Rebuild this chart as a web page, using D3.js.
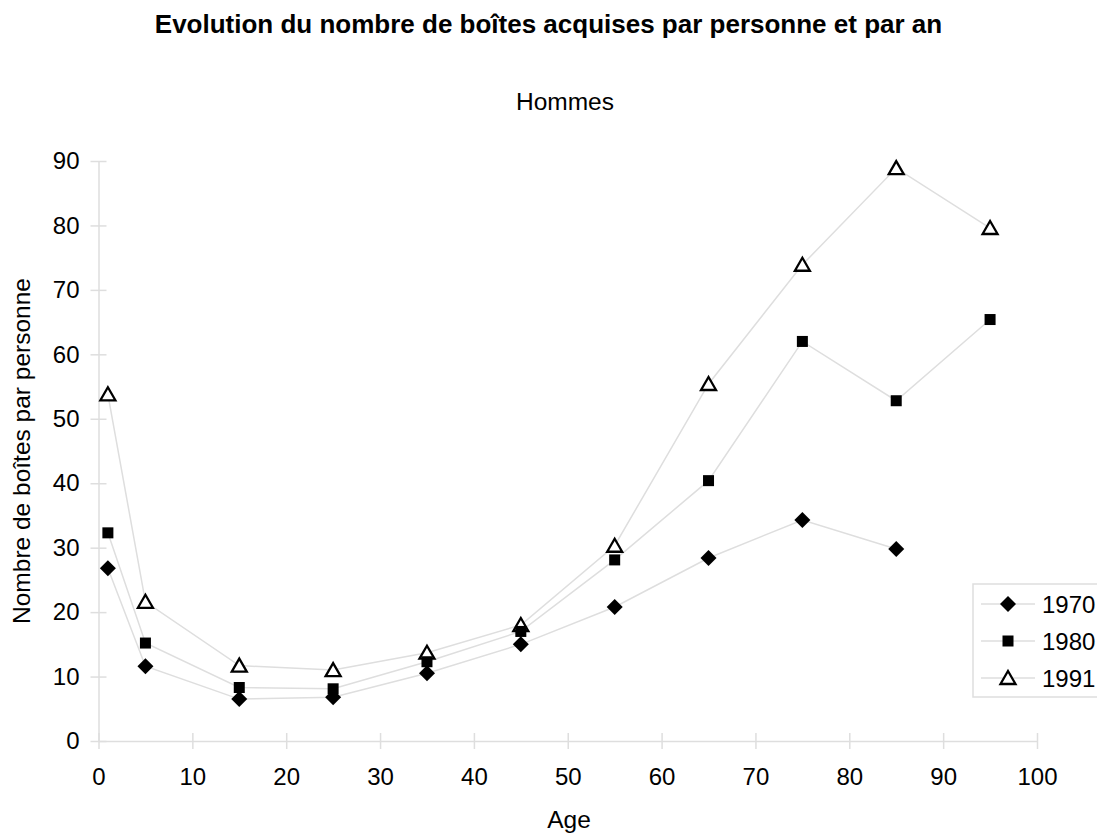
<!DOCTYPE html>
<html>
<head>
<meta charset="utf-8">
<script src="https://cdn.jsdelivr.net/npm/d3@7"></script>
<style>
  body { margin: 0; background: #fff; }
  text { font-family: "Liberation Sans", Arial, Helvetica, sans-serif; fill: #000; }
</style>
</head>
<body>
<script>
// chart data
var ages = [1, 5, 15, 25, 35, 45, 55, 65, 75, 85, 95];
var v1970 = [26.8, 11.6, 6.5, 6.8, 10.5, 15.0, 20.8, 28.4, 34.3, 29.8, null];
var v1980 = [32.3, 15.2, 8.3, 8.1, 12.3, 17.0, 28.1, 40.4, 62.0, 52.8, 65.4];
var v1991 = [53.8, 21.6, 11.7, 11.0, 13.7, 18.0, 30.3, 55.4, 73.9, 88.9, 79.6];
var seriesNames = ["1970", "1980", "1991"];
var xTicks = [0, 10, 20, 30, 40, 50, 60, 70, 80, 90, 100];
var yTicks = [0, 10, 20, 30, 40, 50, 60, 70, 80, 90];

var W = 1097, H = 836;
var grey = "#dedede";

var svg = d3.select("body").append("svg")
    .attr("width", W)
    .attr("height", H);

// scales
var x = d3.scaleLinear().domain([0, 100]).range([98.5, 1037]);
var y = d3.scaleLinear().domain([0, 90]).range([741, 161]);

// titles
svg.append("text")
    .attr("x", W / 2).attr("y", 33)
    .attr("text-anchor", "middle")
    .style("font-size", "26px").style("font-weight", "bold")
    .text("Evolution du nombre de boîtes acquises par personne et par an");

svg.append("text")
    .attr("x", 565).attr("y", 110)
    .attr("text-anchor", "middle")
    .style("font-size", "24.5px")
    .text("Hommes");

svg.append("text")
    .attr("transform", "translate(30,451) rotate(-90)")
    .attr("text-anchor", "middle")
    .style("font-size", "24.5px")
    .text("Nombre de boîtes par personne");

svg.append("text")
    .attr("x", 569).attr("y", 828)
    .attr("text-anchor", "middle")
    .style("font-size", "24.5px")
    .text("Age");

// axes (ticks cross the axis line)
var xAxis = svg.append("g")
    .attr("transform", "translate(0," + y(0) + ")")
    .call(d3.axisBottom(x).tickValues(xTicks).tickSize(8).tickPadding(19).tickSizeOuter(0));

var yAxis = svg.append("g")
    .attr("transform", "translate(" + x(0) + ",0)")
    .call(d3.axisLeft(y).tickValues(yTicks).tickSize(8).tickPadding(11).tickSizeOuter(0));

xAxis.selectAll(".tick line").attr("y1", -8);
yAxis.selectAll(".tick line").attr("x1", 8);

[xAxis, yAxis].forEach(function (g) {
    g.select(".domain").attr("stroke", grey).attr("stroke-width", 1.5);
    g.selectAll(".tick line").attr("stroke", grey).attr("stroke-width", 1.5);
    g.selectAll(".tick text").style("font-size", "24px").attr("fill", "#000");
});

// markers
function drawMarker(sel, k) {
    if (k === 0) {
        sel.append("path").attr("d", "M0,-8L8,0L0,8L-8,0Z").attr("fill", "#000");
    } else if (k === 1) {
        sel.append("rect").attr("x", -5.5).attr("y", -5.5)
            .attr("width", 11).attr("height", 11).attr("fill", "#000");
    } else {
        sel.append("path").attr("d", "M0,-7L7.5,6L-7.5,6Z")
            .attr("fill", "#fff").attr("stroke", "#000").attr("stroke-width", 2.3);
    }
}

var allSeries = [v1970, v1980, v1991];

var line = d3.line()
    .defined(function (d) { return d[1] != null; })
    .x(function (d) { return x(d[0]); })
    .y(function (d) { return y(d[1]); });

allSeries.forEach(function (vals) {
    var pts = ages.map(function (a, i) { return [a, vals[i]]; });
    svg.append("path")
        .datum(pts)
        .attr("d", line)
        .attr("fill", "none")
        .attr("stroke", grey)
        .attr("stroke-width", 1.5);
});

// draw in reverse so 1970 is on top
[2, 1, 0].forEach(function (k) {
    var vals = allSeries[k];
    ages.forEach(function (a, i) {
        if (vals[i] == null) return;
        var g = svg.append("g")
            .attr("transform", "translate(" + x(a) + "," + y(vals[i]) + ")");
        drawMarker(g, k);
    });
});

// legend
var legend = svg.append("g");
legend.append("rect")
    .attr("x", 973).attr("y", 584)
    .attr("width", 140).attr("height", 113)
    .attr("fill", "#fff").attr("stroke", grey).attr("stroke-width", 1.5);

seriesNames.forEach(function (name, k) {
    var ly = 604 + k * 37;
    legend.append("line")
        .attr("x1", 981).attr("x2", 1035)
        .attr("y1", ly).attr("y2", ly)
        .attr("stroke", grey).attr("stroke-width", 1.5);
    var g = legend.append("g").attr("transform", "translate(1008," + ly + ")");
    drawMarker(g, k);
    legend.append("text")
        .attr("x", 1042).attr("y", ly + 8.5)
        .style("font-size", "24px")
        .text(name);
});
</script>
</body>
</html>
